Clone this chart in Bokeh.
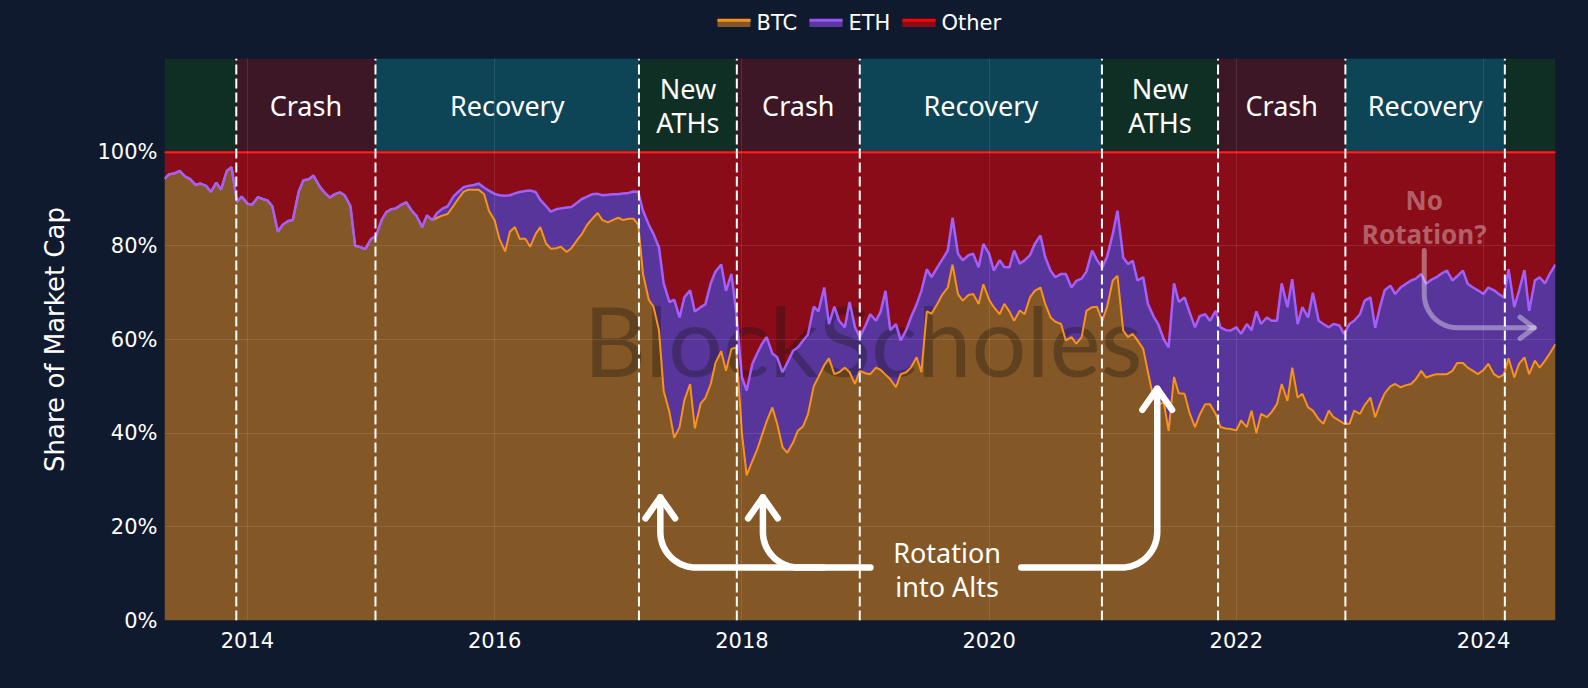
import numpy as np
import pandas as pd
from bokeh.plotting import figure
from bokeh.layouts import column
from bokeh.models import (Range1d, FixedTicker, PrintfTickFormatter,
                          NumeralTickFormatter, ColumnDataSource)
from bokeh.core.properties import value
from bokeh.embed import file_html
from bokeh.resources import INLINE

# ---------------- data (semi-monthly samples, % of total market cap) ----------------
dates = pd.date_range("2013-05-01", "2024-08-01", freq="SMS")

btc_share = [
    # 2013 (May-Dec)
    94.3, 95.3, 95.5, 96.0, 94.8, 94.3, 93.0, 93.3, 92.8, 91.5, 93.5, 92.0, 96.0, 96.8, 89.4, 90.5,
    # 2014
    89.0, 88.8, 90.4, 90.0, 89.7, 88.5, 83.0, 84.5, 85.3, 85.5, 91.5, 94.0,
    94.2, 95.0, 92.8, 91.5, 90.3, 91.0, 91.4, 90.8, 88.5, 80.0, 79.7, 79.3,
    # 2015
    81.5, 82.0, 85.5, 87.2, 87.8, 88.0, 88.8, 89.3, 87.5, 86.4, 84.0, 86.5,
    85.5, 86.0, 86.5, 86.8, 88.5, 90.0, 91.5, 92.0, 92.0, 92.0, 91.0, 87.5,
    # 2016
    85.4, 81.5, 78.8, 83.0, 84.0, 81.5, 81.5, 79.8, 82.5, 84.0, 80.5, 79.4,
    79.5, 79.8, 78.7, 79.5, 81.2, 82.5, 84.5, 85.7, 87.0, 85.5, 85.0, 85.5,
    # 2017
    86.0, 85.5, 85.8, 85.8, 84.5, 74.0, 68.5, 67.0, 62.0, 49.0, 44.5, 39.0,
    41.3, 47.0, 50.5, 41.0, 46.3, 47.5, 50.5, 55.0, 57.5, 53.3, 58.0, 58.3,
    # 2018
    40.0, 31.0, 34.1, 36.5, 39.5, 42.5, 45.5, 42.0, 37.0, 35.8, 38.0, 40.5,
    41.5, 44.0, 50.0, 52.0, 54.5, 56.0, 52.6, 53.0, 54.0, 53.0, 50.5, 53.3,
    # 2019
    52.8, 52.6, 54.0, 53.5, 52.5, 51.5, 49.8, 52.6, 53.0, 54.0, 56.2, 53.0,
    66.0, 65.5, 67.6, 69.5, 71.1, 76.0, 69.7, 68.3, 69.5, 69.7, 67.6, 71.8,
    # 2020
    68.5, 66.9, 65.4, 67.6, 66.0, 64.0, 66.2, 65.4, 69.0, 70.4, 71.1, 67.6,
    64.7, 63.8, 63.3, 59.8, 60.5, 59.1, 60.5, 66.1, 66.9, 67.0, 64.0, 66.9,
    # 2021
    72.6, 73.6, 61.9, 60.5, 61.2, 59.8, 58.0, 53.0, 47.6, 46.2, 46.5, 40.5,
    52.0, 48.5, 48.4, 44.5, 41.3, 44.0, 46.2, 46.2, 44.1, 41.3, 41.0, 40.9,
    # 2022
    40.6, 42.7, 41.3, 44.8, 40.0, 44.1, 43.4, 44.5, 46.2, 50.5, 46.9, 54.0,
    47.6, 48.4, 45.5, 44.8, 43.0, 42.0, 44.8, 43.4, 42.7, 42.0, 42.0, 44.8,
    # 2023
    44.1, 46.0, 47.6, 43.4, 46.2, 48.5, 50.0, 50.5, 49.8, 50.2, 50.5, 51.5,
    53.3, 51.9, 52.3, 52.6, 52.6, 52.6, 53.3, 55.0, 55.0, 54.0, 53.3, 52.6,
    # 2024 (Jan-Aug)
    53.5, 54.8, 52.6, 51.9, 52.5, 56.0, 51.9, 54.8, 56.2, 52.6, 55.5, 54.0,
    55.5, 57.0, 59.0,
]

eth_share = [
    # 2013 (May-Dec)
    0.0, 0.0, 0.0, 0.0, 0.0, 0.0, 0.0, 0.0, 0.0, 0.0, 0.0, 0.0, 0.0, 0.0, 0.0, 0.0,
    # 2014
    0.0, 0.0, 0.0, 0.0, 0.0, 0.0, 0.0, 0.0, 0.0, 0.0, 0.0, 0.0,
    0.0, 0.0, 0.0, 0.0, 0.0, 0.0, 0.0, 0.0, 0.0, 0.0, 0.0, 0.0,
    # 2015
    0.0, 0.0, 0.0, 0.0, 0.0, 0.0, 0.0, 0.0, 0.0, 0.0, 0.0, 0.0,
    0.0, 1.0, 1.5, 1.6, 2.0, 1.5, 1.0, 0.8, 1.0, 1.3, 1.4, 4.3,
    # 2016
    5.7, 9.3, 11.9, 7.8, 7.2, 10.0, 10.2, 12.0, 9.0, 5.8, 8.0, 7.9,
    8.3, 8.2, 9.5, 8.8, 8.0, 7.5, 6.0, 5.3, 4.1, 5.3, 5.9, 5.5,
    # 2017
    5.0, 5.7, 5.5, 5.8, 7.0, 13.5, 16.0, 15.5, 17.7, 23.0, 23.5, 29.5,
    23.4, 22.0, 20.0, 25.0, 20.6, 20.0, 21.5, 19.5, 18.5, 17.1, 16.0, 7.7,
    # 2018
    12.0, 18.1, 20.7, 20.5, 19.5, 18.0, 11.5, 14.2, 16.0, 19.2, 19.6, 17.8,
    18.3, 17.0, 17.0, 14.0, 16.6, 7.3, 14.4, 11.0, 8.6, 15.0, 12.1, 7.2,
    # 2019
    10.2, 12.8, 10.0, 12.5, 17.9, 10.5, 13.5, 7.2, 9.0, 10.7, 11.3, 17.4,
    9.0, 7.8, 7.8, 7.5, 7.9, 10.0, 8.6, 8.6, 8.5, 8.6, 7.8, 8.6,
    # 2020
    9.8, 7.8, 11.5, 7.9, 9.4, 15.0, 10.0, 11.5, 9.0, 10.0, 11.1, 10.0,
    10.0, 9.5, 10.7, 14.2, 10.6, 13.4, 12.5, 8.4, 12.1, 10.0, 11.4, 10.7,
    # 2021
    9.9, 13.9, 15.6, 15.6, 15.6, 12.8, 15.3, 14.6, 17.4, 17.1, 13.5, 17.8,
    20.0, 19.5, 20.6, 21.5, 21.3, 21.0, 19.2, 17.8, 22.0, 21.3, 21.0, 21.0,
    # 2022
    22.0, 18.5, 22.0, 17.2, 26.0, 19.2, 21.3, 19.5, 17.8, 21.5, 20.0, 18.9,
    15.7, 18.5, 19.2, 25.2, 21.0, 21.3, 17.8, 19.9, 20.3, 19.2, 21.3, 19.2,
    # 2023
    21.3, 22.3, 21.4, 19.1, 20.7, 22.0, 21.5, 19.2, 21.3, 21.6, 22.1, 21.5,
    20.7, 20.0, 20.5, 20.7, 21.6, 22.1, 19.3, 18.5, 19.7, 17.9, 17.8, 17.9,
    # 2024 (Jan-Aug)
    16.2, 16.3, 17.9, 17.8, 16.5, 19.0, 15.0, 15.6, 18.6, 13.5, 17.1, 19.3,
    16.5, 17.0, 17.0,
]

series_names = ["BTC", "ETH", "Other"]

# market phases (start dates)
phase_starts = ["2013-05-01", "2013-11-29", "2015-01-14", "2017-03-03", "2017-12-17",
                "2018-12-15", "2020-11-30", "2021-11-08", "2022-11-19", "2024-03-04"]
phase_kinds = ["ath", "crash", "recovery", "ath", "crash",
               "recovery", "ath", "crash", "recovery", "ath"]
phase_labels = ["", "Crash", "Recovery", "New\nATHs", "Crash",
                "Recovery", "New\nATHs", "Crash", "Recovery", ""]

year_ticks = [2014, 2016, 2018, 2020, 2022, 2024]
pct_ticks = [0, 20, 40, 60, 80, 100]

# ---------------- styling ----------------
BG = "#101a2e"
BTC_FILL, BTC_LINE = "#845726", "#f7931a"
ETH_FILL, ETH_LINE = "#58359a", "#a35ffc"
OTH_FILL, OTH_LINE = "#8a0c18", "#f20d0d"
PHASE_COLORS = {"ath": "#0f2f25", "crash": "#3e1727", "recovery": "#0d4557"}
LABEL_FONT = "Noto Sans"
AXIS_FONT = "DejaVu Sans"

W = 1572
LEG_H = 58
MAIN_H = 614
B_LEFT, B_RIGHT = 164, 17


def to_year(d):
    d = pd.to_datetime(d)
    return np.asarray(d.year + (d.dayofyear - 1) / np.where(d.is_leap_year, 366.0, 365.0), dtype=float)


t = to_year(dates)
btc = np.array(btc_share, dtype=float)
eth = np.array(eth_share, dtype=float)
top = btc + eth
other = 100.0 - top
total = btc + eth + other

src = ColumnDataSource(dict(t=t, zero=np.zeros_like(t), btc=btc, top=top, total=total))

p = figure(width=W, height=MAIN_H, output_backend="svg", toolbar_location=None,
           x_range=Range1d(t[0], t[-1]), y_range=Range1d(0, 120),
           min_border_left=B_LEFT, min_border_right=B_RIGHT, min_border_top=0, min_border_bottom=52)
p.background_fill_color = BG
p.border_fill_color = BG
p.outline_line_color = None

# phase bands
starts = to_year(phase_starts)
ends = np.append(starts[1:], t[-1])
p.quad(left=starts, right=ends, bottom=100, top=120,
       fill_color=[PHASE_COLORS[k] for k in phase_kinds], line_color=None)

# stacked areas
p.varea(x="t", y1="zero", y2="btc", source=src, fill_color=BTC_FILL)
p.varea(x="t", y1="btc", y2="top", source=src, fill_color=ETH_FILL)
p.varea(x="t", y1="top", y2="total", source=src, fill_color=OTH_FILL)

# watermark
p.text(x=[2018.98], y=[60.0], text=["BlockScholes"], text_font=value("Lato"),
       text_font_size="97px", text_color="#141414", text_alpha=0.33,
       text_align="center", text_baseline="middle")

# lines
p.line(x="t", y="total", source=src, line_color=OTH_LINE, line_width=2.5)
p.line(x="t", y="btc", source=src, line_color=BTC_LINE, line_width=2)
p.line(x="t", y="top", source=src, line_color=ETH_LINE, line_width=2.5)

# phase boundaries
p.segment(x0=starts[1:], y0=0, x1=starts[1:], y1=120, line_color="white",
          line_width=2, line_dash="10 4")

# phase labels
lx, ly, lt = [], [], []
for s, e, lab in zip(starts, ends, phase_labels):
    if not lab:
        continue
    parts = lab.split("\n")
    n = len(parts)
    for i, part in enumerate(parts):
        lx.append((s + e) / 2)
        ly.append(110 + (n - 1) / 2 * 7.3 - i * 7.3)
        lt.append(part)
p.text(x=lx, y=ly, text=lt, text_font=value(LABEL_FONT), text_font_size="27px",
       text_color="white", text_align="center", text_baseline="middle")

# ---------------- annotations ----------------
def arc(cx, cy, rx, ry, a0, a1, n=16):
    a = np.linspace(a0, a1, n)
    return list(cx + rx * np.cos(a)), list(cy + ry * np.sin(a))


rx, ry = 0.29, 7.6          # rounded-corner radii (years, %)
yh = 11.3                   # level of the horizontal stroke
xa1, xa2, xa3 = 2017.34, 2018.17, 2021.36
tip_l, tip_r = 26.3, 49.5
x_txt_l, x_txt_r = 2019.04, 2020.26

arrows_x, arrows_y = [], []
ax_, ay_ = arc(xa1 + rx, yh + ry, rx, ry, -np.pi / 2, -np.pi)
arrows_x.append([x_txt_l] + ax_ + [xa1]); arrows_y.append([yh] + ay_ + [tip_l])
ax_, ay_ = arc(xa2 + rx, yh + ry, rx, ry, -np.pi / 2, -np.pi)
arrows_x.append([xa2 + rx + 0.2] + ax_ + [xa2]); arrows_y.append([yh] + ay_ + [tip_l])
ax_, ay_ = arc(xa3 - rx, yh + ry, rx, ry, -np.pi / 2, 0)
arrows_x.append([x_txt_r] + ax_ + [xa3]); arrows_y.append([yh] + ay_ + [tip_r])
hw, hh = 0.12, 4.5
for xv, tp in [(xa1, tip_l), (xa2, tip_l), (xa3, tip_r)]:
    arrows_x.append([xv - hw, xv, xv + hw]); arrows_y.append([tp - hh, tp, tp - hh])
p.multi_line(xs=arrows_x, ys=arrows_y, line_color="white", line_width=6.5,
             line_cap="round", line_join="round")

p.text(x=[2019.66, 2019.66], y=[14.5, 7.3], text=["Rotation", "into Alts"],
       text_font=value(LABEL_FONT), text_font_size="27px", text_color="white",
       text_align="center", text_baseline="middle")

# "No Rotation?" faint annotation
xn, yn_start, yn = 2023.52, 79.0, 62.5
tip_n = 2024.41
rxn, ryn = 0.27, 7.2
ax_, ay_ = arc(xn + rxn, yn + ryn, rxn, ryn, np.pi, 1.5 * np.pi)
nx = [[xn] + ax_ + [tip_n], [tip_n - 0.115, tip_n, tip_n - 0.115]]
ny = [[yn_start] + ay_ + [yn], [yn + 2.3, yn, yn - 2.3]]
p.multi_line(xs=nx, ys=ny, line_color="white", line_alpha=0.38, line_width=5,
             line_cap="round", line_join="round")
p.text(x=[xn, xn], y=[89.8, 82.5], text=["No", "Rotation?"], text_font=value(LABEL_FONT),
       text_font_size="26px", text_font_style="bold", text_color="white", text_alpha=0.35,
       text_align="center", text_baseline="middle")

# ---------------- axes & grid ----------------
p.xaxis.ticker = FixedTicker(ticks=year_ticks)
p.xaxis.formatter = NumeralTickFormatter(format="0")
p.yaxis.ticker = FixedTicker(ticks=pct_ticks)
p.yaxis.formatter = PrintfTickFormatter(format="%d%%")
p.xgrid.ticker = FixedTicker(ticks=year_ticks)
p.ygrid.ticker = FixedTicker(ticks=pct_ticks)
for g in (p.xgrid, p.ygrid):
    g.grid_line_color = "white"
    g.grid_line_alpha = 0.1
    g.grid_line_width = 1
    g.level = "guide"

for ax in (p.xaxis, p.yaxis):
    ax.axis_line_color = None
    ax.major_tick_line_color = None
    ax.minor_tick_line_color = None
    ax.major_tick_out = 0
    ax.major_tick_in = 0
    ax.minor_tick_out = 0
    ax.major_label_text_color = "white"
    ax.major_label_text_font = AXIS_FONT
    ax.major_label_text_font_size = "21px"
p.xaxis.major_label_standoff = 11
p.yaxis.major_label_standoff = 7
p.yaxis.axis_label = "Share of Market Cap"
p.yaxis.axis_label_text_color = "white"
p.yaxis.axis_label_text_font = AXIS_FONT
p.yaxis.axis_label_text_font_size = "26px"
p.yaxis.axis_label_text_font_style = "normal"
p.yaxis.axis_label_standoff = 24

# ---------------- legend strip (page-pixel coordinates of the strip above the plot) ----------------
leg = figure(width=W, height=LEG_H, output_backend="svg", toolbar_location=None,
             x_range=Range1d(B_LEFT, W - B_RIGHT), y_range=Range1d(LEG_H, 0),
             min_border_left=B_LEFT, min_border_right=B_RIGHT, min_border_top=0, min_border_bottom=0)
leg.background_fill_color = BG
leg.border_fill_color = BG
leg.outline_line_color = None
leg.axis.visible = False
leg.grid.visible = False

sw_left = [717, 809, 902]
sw_fill = [BTC_FILL, "#5a389e", OTH_FILL]
sw_line = [BTC_LINE, "#9a55f5", "#ff0000"]
lab_x = [756, 848, 941]
leg.quad(left=sw_left, right=[x + 33 for x in sw_left], top=[18.5] * 3, bottom=[26.5] * 3,
         fill_color=sw_fill, line_color=None)
leg.segment(x0=sw_left, x1=[x + 33 for x in sw_left], y0=[19.8] * 3, y1=[19.8] * 3,
            line_color=sw_line, line_width=3)
leg.text(x=lab_x, y=[22.7] * 3, text=series_names, text_font=value(AXIS_FONT),
         text_font_size="21px", text_color="white", text_align="left", text_baseline="middle")

layout = column(leg, p, spacing=0)
layout.styles = {"background-color": BG}

html = file_html(layout, INLINE)
html = html.replace("</head>",
                    "<style>html, body { background-color: %s !important; }</style>\n</head>" % BG, 1)
open("out.html", "w").write(html)
